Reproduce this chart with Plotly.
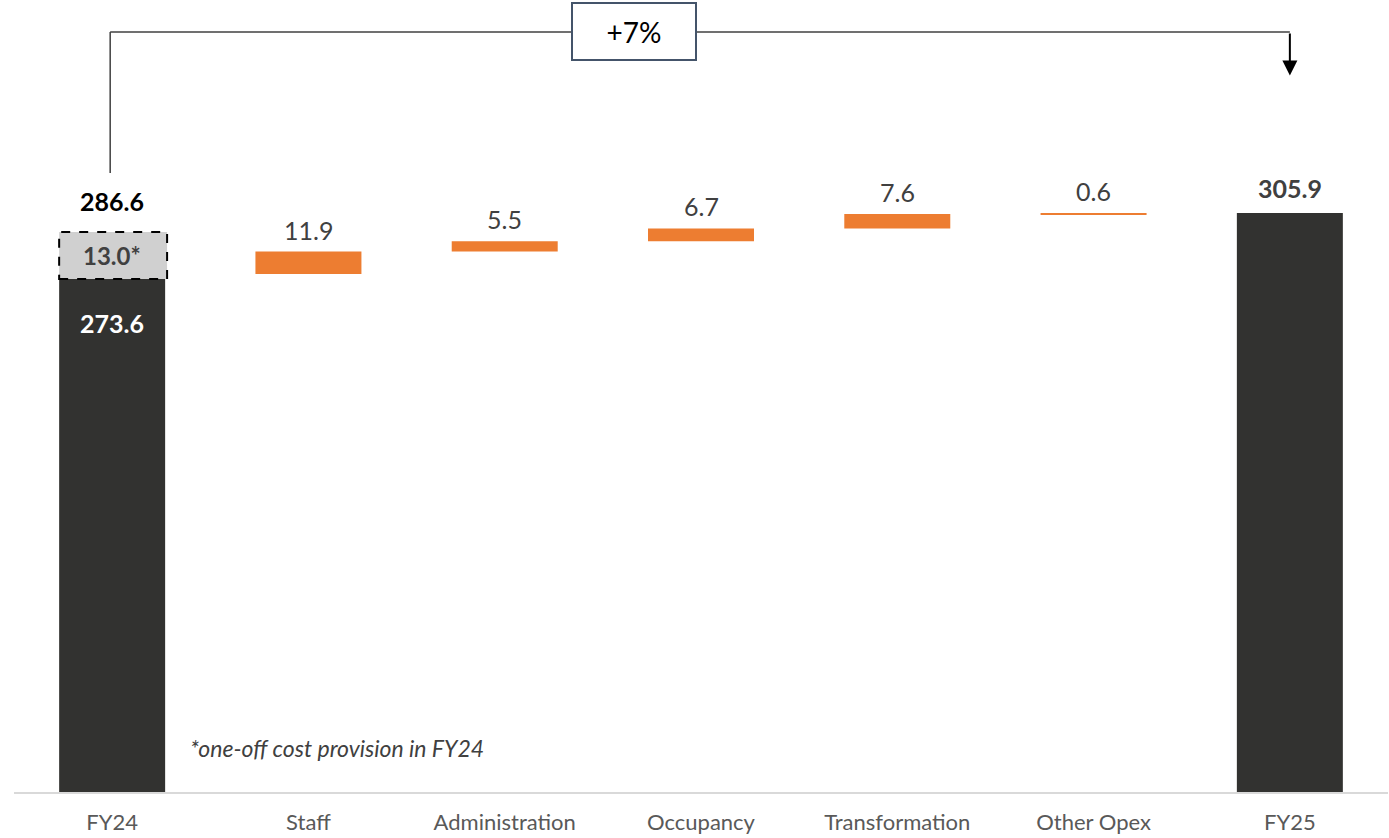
import plotly.graph_objects as go

categories = ["FY24", "Staff", "Administration", "Occupancy", "Transformation", "Other Opex", "FY25"]
fy24_underlying = 273.6
one_off_provision = 13.0
fy24_reported = 286.6
increments = [11.9, 5.5, 6.7, 7.6, 0.6]
fy25_total = 305.9
growth_label = "+7%"
footnote = "*one-off cost provision in FY24"

DARK = "#323230"
ORANGE = "#ED7D31"
FONT = "Lato"

# waterfall bases
bases = []
run = fy24_underlying
for v in increments:
    bases.append(run)
    run += v

fig = go.Figure()
fig.add_trace(go.Bar(x=[categories[0], categories[-1]], y=[fy24_underlying, fy25_total],
                     marker=dict(color=DARK, line=dict(width=0)), hoverinfo="skip"))
fig.add_trace(go.Bar(x=categories[1:-1], y=increments, base=bases,
                     marker=dict(color=ORANGE, line=dict(width=0)), hoverinfo="skip"))

ann = []
shapes = []
# increment labels
for c, b, v in zip(categories[1:-1], bases, increments):
    ann.append(dict(x=c, y=b + v, text=f"{v:.1f}", showarrow=False, yanchor="middle", yshift=22,
                    font=dict(family=FONT, size=25, color="#404040")))
# FY25 label
ann.append(dict(x=categories[-1], y=fy25_total, text=f"<b>{fy25_total:.1f}</b>", showarrow=False,
                yanchor="middle", yshift=25, font=dict(family=FONT, size=25, color="#404040")))
# FY24 underlying label inside bar
ann.append(dict(x=categories[0], y=fy24_underlying, text=f"<b>{fy24_underlying:.1f}</b>", showarrow=False,
                yanchor="middle", yshift=-49, font=dict(family=FONT, size=25, color="white")))
# provision box (decorative, drawn larger than scale)
box_bottom = fy24_underlying - 2.6
box_top = fy24_underlying + 22.3
shapes.append(dict(type="rect", xref="x", yref="y", x0=-0.27, x1=0.28, y0=box_bottom, y1=box_top,
                   fillcolor="#D0D0D0", line=dict(color="black", width=2, dash="dash"), layer="above"))
ann.append(dict(x=categories[0], y=(box_bottom + box_top) / 2, text=f"<b>{one_off_provision:.1f}*</b>",
                showarrow=False, yanchor="middle", font=dict(family=FONT, size=24, color="#404040")))
ann.append(dict(x=categories[0], y=box_top, text=f"<b>{fy24_reported:.1f}</b>", showarrow=False,
                yanchor="middle", yshift=31, font=dict(family=FONT, size=25, color="black")))
# footnote
ann.append(dict(x=0.385, xref="x", y=23, yref="y", text=f"<i>{footnote}</i>", showarrow=False,
                xanchor="left", yanchor="middle", font=dict(family=FONT, size=23, color="#404040")))

# growth bracket
bracket_y = 401.5
shapes.append(dict(type="line", xref="x", yref="y", x0=-0.01, x1=-0.01, y0=327, y1=bracket_y,
                   line=dict(color="#404040", width=1.5)))
shapes.append(dict(type="line", xref="x", yref="y", x0=-0.01, x1=6.0, y0=bracket_y, y1=bracket_y,
                   line=dict(color="#404040", width=1.5)))
ann.append(dict(x=6.0, y=378.5, xref="x", yref="y", ax=6.0, ay=bracket_y, axref="x", ayref="y",
                showarrow=True, arrowhead=2, arrowsize=1.5, arrowwidth=2, arrowcolor="black", text=""))
ann.append(dict(x=2.66, y=bracket_y, xref="x", yref="y", text=growth_label, showarrow=False,
                font=dict(family=FONT, size=28, color="black"), bgcolor="white",
                bordercolor="#44546A", borderwidth=2, width=120, height=53))

fig.update_layout(
    width=1389, height=838,
    margin=dict(l=14, r=1, t=0, b=46),
    plot_bgcolor="white", paper_bgcolor="white",
    barmode="overlay", bargap=0.46, showlegend=False,
    annotations=ann, shapes=shapes,
    xaxis=dict(type="category", categoryorder="array", categoryarray=categories, range=[-0.5, 6.5],
               showline=True, linecolor="#D9D9D9", linewidth=2, ticks="", showgrid=False,
               ticklabelstandoff=10,
               tickfont=dict(family=FONT, size=22, color="#595959")),
    yaxis=dict(range=[0, 418.4], visible=False, showgrid=False, zeroline=False),
)

fig.write_html("out.html")
